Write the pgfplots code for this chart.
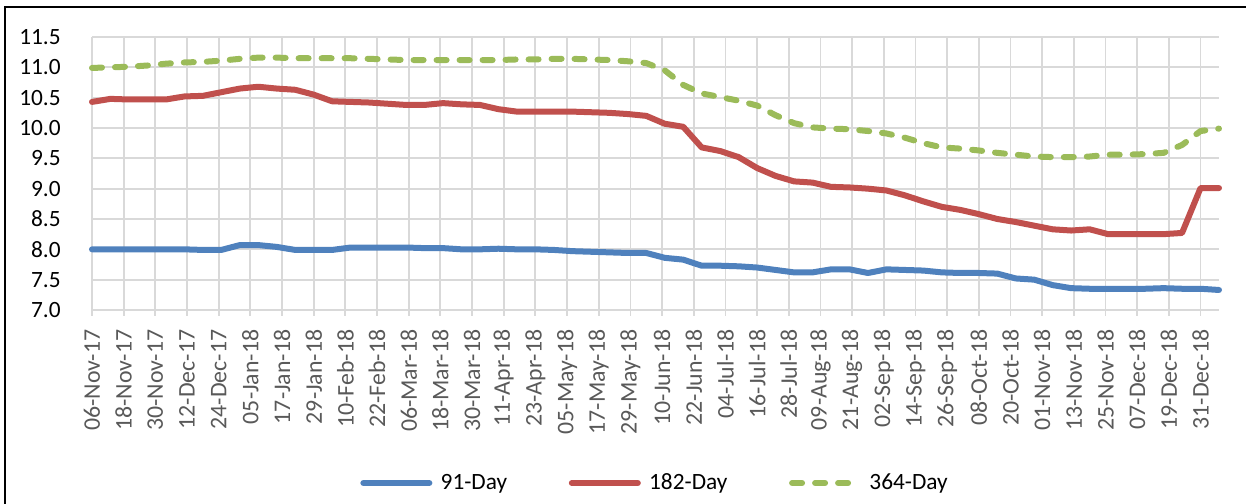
\documentclass[border=0pt]{standalone}
\usepackage{fontspec}
\setmainfont{Carlito}
\usepackage{pgfplots}
\usepackage{pgfplotstable}
\pgfplotsset{compat=1.18}
\definecolor{c91}{RGB}{79,129,189}
\definecolor{c182}{RGB}{192,80,77}
\definecolor{c364}{RGB}{155,187,89}
\definecolor{gridc}{RGB}{217,217,217}
\definecolor{tickc}{RGB}{89,89,89}
\pgfplotstableread{
day v91 v182 v364
0 8.00 10.43 10.99
7 8.00 10.48 11.00
14 8.00 10.47 11.01
21 8.00 10.47 11.03
28 8.00 10.47 11.06
35 8.00 10.52 11.08
42 7.99 10.53 11.09
49 7.99 10.59 11.11
56 8.07 10.65 11.14
63 8.07 10.68 11.16
70 8.04 10.65 11.16
77 7.99 10.63 11.15
84 7.99 10.55 11.15
91 7.99 10.44 11.15
98 8.03 10.43 11.15
105 8.03 10.42 11.14
112 8.03 10.40 11.13
119 8.03 10.38 11.12
126 8.02 10.38 11.12
133 8.02 10.41 11.12
140 8.00 10.39 11.12
147 8.00 10.38 11.12
154 8.01 10.31 11.12
161 8.00 10.27 11.13
168 8.00 10.27 11.13
175 7.99 10.27 11.14
182 7.97 10.27 11.14
189 7.96 10.26 11.13
196 7.95 10.25 11.12
203 7.94 10.23 11.10
210 7.94 10.20 11.07
217 7.86 10.07 10.95
224 7.83 10.02 10.71
231 7.73 9.68 10.57
238 7.73 9.62 10.51
245 7.72 9.52 10.45
252 7.70 9.34 10.37
259 7.66 9.21 10.21
266 7.62 9.12 10.08
273 7.62 9.10 10.01
280 7.67 9.03 9.99
287 7.67 9.02 9.98
294 7.61 9.00 9.95
301 7.67 8.97 9.91
308 7.66 8.89 9.84
315 7.65 8.79 9.75
322 7.62 8.70 9.68
329 7.61 8.65 9.66
336 7.61 8.58 9.63
343 7.60 8.50 9.59
350 7.52 8.45 9.56
357 7.50 8.39 9.53
364 7.41 8.33 9.52
371 7.36 8.31 9.52
378 7.35 8.33 9.53
385 7.35 8.25 9.56
392 7.35 8.25 9.56
399 7.35 8.25 9.57
406 7.36 8.25 9.59
413 7.35 8.27 9.72
420 7.35 9.01 9.95
427 7.33 9.01 9.99
}\ratestable
\begin{document}
\begin{tikzpicture}[x=1pt,y=1pt]
\useasboundingbox (0,0) rectangle (747.6,302.4);
\draw[line width=1.2pt] (3.2,-10) -- (3.2,298.0) -- (760,298.0);
\begin{axis}[
  at={(55.2pt,116.4pt)}, anchor=south west,
  scale only axis, width=676.2pt, height=163.8pt,
  xmin=0, xmax=427, ymin=7, ymax=11.5,
  clip=false,
  axis line style={draw=none},
  grid=major,
  major grid style={gridc, line width=1.1pt},
  xtick={0,12,...,420},
  xticklabels={06-Nov-17,18-Nov-17,30-Nov-17,12-Dec-17,24-Dec-17,05-Jan-18,17-Jan-18,29-Jan-18,10-Feb-18,22-Feb-18,06-Mar-18,18-Mar-18,30-Mar-18,11-Apr-18,23-Apr-18,05-May-18,17-May-18,29-May-18,10-Jun-18,22-Jun-18,04-Jul-18,16-Jul-18,28-Jul-18,09-Aug-18,21-Aug-18,02-Sep-18,14-Sep-18,26-Sep-18,08-Oct-18,20-Oct-18,01-Nov-18,13-Nov-18,25-Nov-18,07-Dec-18,19-Dec-18,31-Dec-18},
  ytick={7,7.5,8,8.5,9,9.5,10,10.5,11,11.5},
  xtick pos=bottom, tick align=outside,
  major tick length=3.6pt,
  x tick style={gridc, line width=1.1pt},
  y tick style={draw=none},
  ytick pos=left,
  xticklabel style={font=\fontsize{14.3}{16}\selectfont, text=tickc, rotate=90, anchor=east, inner sep=0pt},
  yticklabel style={font=\fontsize{14}{16}\selectfont, text=black, anchor=east, inner sep=0pt},
  xticklabel shift=8pt,
  yticklabel shift=15pt,
  /pgf/number format/.cd, fixed, fixed zerofill, precision=1, assume math mode=true,
  /pgfplots/.cd,
  legend columns=3,
  legend style={at={(axis description cs:0.4987,-0.6337)}, anchor=center, draw=none, fill=none,
    font=\fontsize{14}{16}\selectfont, inner sep=0pt, nodes={inner sep=0pt},
    /tikz/every odd column/.append style={column sep=5pt},
    /tikz/every even column/.append style={column sep=37pt}},
  legend image code/.code={\draw[#1] (0pt,0pt) -- (39.6pt,0pt);},
  every axis plot/.append style={line width=3.6pt, line join=round, line cap=round},
]
\addplot[c91] table[x=day,y=v91] {\ratestable};
\addlegendentry{91-Day}
\addplot[c182] table[x=day,y=v182] {\ratestable};
\addlegendentry{182-Day}
\addplot[c364, dash pattern=on 6pt off 7.8pt] table[x=day,y=v364] {\ratestable};
\addlegendentry{364-Day}
\end{axis}
\end{tikzpicture}
\end{document}
